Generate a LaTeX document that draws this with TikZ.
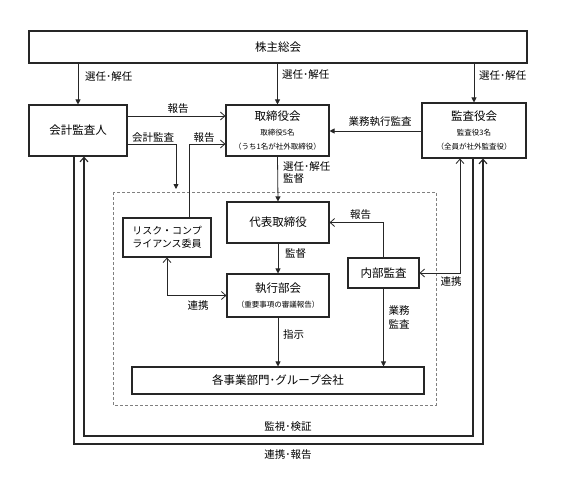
\documentclass[tikz,border=0pt]{standalone}
\usepackage{fontspec}
\setmainfont{Noto Sans CJK JP}
\usetikzlibrary{arrows.meta}
\newcommand\subf{\fontsize{7.5}{9}\selectfont}
\newcommand\titf{\fontsize{11.5}{14}\selectfont}
\begin{document}
\begin{tikzpicture}[x=1pt,y=-1pt,
  box/.style={draw=black!85, line width=1.1pt, fill=white, inner sep=1pt, align=center, font=\titf},
  lbl/.style={inner sep=0pt, font=\fontsize{10.5}{12}\selectfont},
  conn/.style={draw=black!85, line width=0.8pt},
  fa/.style={conn, -{Triangle[length=5pt,width=5pt]}},
  oa/.style={conn, -{Straight Barb[length=4.5pt,width=8pt]}},
  ob/.style={conn, {Straight Barb[length=4.5pt,width=8pt]}-{Straight Barb[length=4.5pt,width=8pt]}},
  frame/.style={draw=black!50, line width=0.9pt, dash pattern=on 3pt off 2pt}
]
\useasboundingbox (0,0) rectangle (567,479);
\fill[white] (0,0) rectangle (567,479);

% dashed frame
\draw[frame] (113,192) rectangle (436,405);

% boxes
\node[box, minimum width=498, minimum height=32] (shk) at (278,47) {株主総会};
\node[box, minimum width=98, minimum height=51] (kk) at (78,130.5) {会計監査人};
\node[box, minimum width=103, minimum height=51] (tr) at (277.5,130.5)
  {\titf 取締役会\\[1pt]\subf 取締役5名\\\subf （うち1名が社外取締役）};
\node[box, minimum width=104, minimum height=55] (ka) at (474,130.5)
  {\titf 監査役会\\[1pt]\subf 監査役3名\\\subf （全員が社外監査役）};
\node[box, minimum width=88, minimum height=39, font=\fontsize{10}{12.5}\selectfont] (rk) at (167,237.5)
  {リスク・コンプ\\ライアンス委員};
\node[box, minimum width=102, minimum height=41] (dt) at (278,222.5) {代表取締役};
\node[box, minimum width=102, minimum height=43] (sk) at (278,295.5)
  {\titf 執行部会\\[1pt]\subf （重要事項の審議報告）};
\node[box, minimum width=71, minimum height=30] (nb) at (383.5,273) {内部監査};
\node[box, minimum width=292, minimum height=27] (kj) at (278,380.5) {各事業部門･グループ会社};

% helper coordinates
\coordinate (y116) at (0,116);
\coordinate (y144) at (0,144);
\coordinate (y131) at (0,131);
\coordinate (kaend) at (176,189);
\coordinate (x189) at (189,0);
\coordinate (x460) at (460,0);
\coordinate (x473) at (473,0);
\coordinate (x483) at (483,0);
\coordinate (x74) at (74,0);
\coordinate (x84) at (84,0);
\coordinate (y436) at (0,436);
\coordinate (y444) at (0,444);

% connectors
\draw[fa] (kk.north |- shk.south) -- (kk.north);
\draw[fa] (tr.north |- shk.south) -- (tr.north);
\draw[fa] (ka.north |- shk.south) -- (ka.north);
\draw[oa] (kk.east |- y116) -- (tr.west |- y116);
\draw[fa] (kk.east |- y144) -| (kaend);
\draw[oa] (rk.north -| x189) |- (tr.west |- y144);
\draw[fa] (ka.west |- y131) -- (tr.east |- y131);
\draw[fa] (tr.south) -- (dt.north);
\draw[fa] (dt.south) -- (sk.north);
\draw[fa] (sk.south) -- (kj.north -| sk.south);
\draw[oa] (nb.north) |- (dt.east);
\draw[fa] (nb.south) -- (kj.north -| nb.south);
\draw[ob] (ka.south -| x460) |- (nb.east);
\draw[ob] (rk.south) |- (sk.west);
\draw[oa, line width=1.1pt] (ka.south -| x473) -- (x473 |- y436) -| (kk.south -| x84);
\draw[oa, line width=1.1pt] (kk.south -| x74) -- (x74 |- y444) -| (ka.south -| x483);

% labels
\node[lbl, anchor=west] (l1) at (85,77) {選任･解任};
\node[lbl, anchor=west] (l2) at (282,75) {選任･解任};
\node[lbl, anchor=west] (l3) at (479,76) {選任･解任};
\node[lbl] (l4) at (178,109) {報告};
\node[lbl] (l5) at (153,138) {会計監査};
\node[lbl] (l6) at (204,138) {報告};
\node[lbl] (l7) at (380,122) {業務執行監査};
\node[lbl, anchor=west] (l8) at (283,167) {選任･解任};
\node[lbl, anchor=west] (l9) at (283,179) {監督};
\node[lbl, anchor=west] (l10) at (285,254) {監督};
\node[lbl, anchor=west] (l11) at (283,335) {指示};
\node[lbl] (l12) at (360.5,215) {報告};
\node[lbl] (l13) at (399,310) {業務};
\node[lbl] (l14) at (399,324) {監査};
\node[lbl] (l15) at (451,282) {連携};
\node[lbl] (l16) at (198,306) {連携};
\node[lbl] (l17) at (288,427) {監視･検証};
\node[lbl] (l18) at (288,455) {連携･報告};
\end{tikzpicture}
\end{document}
